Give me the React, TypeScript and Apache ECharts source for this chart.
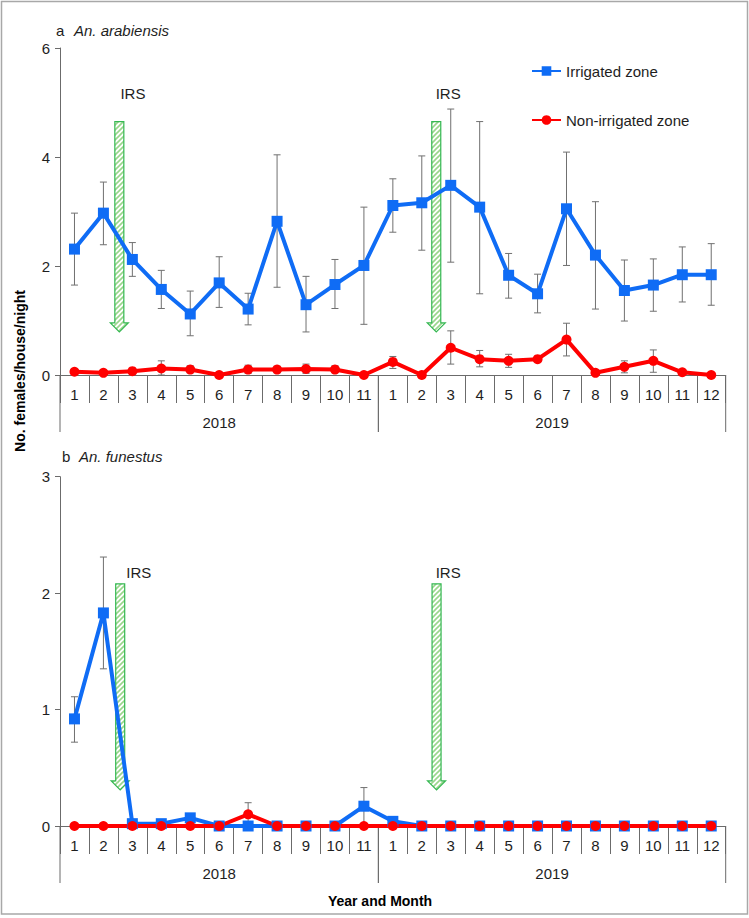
import React, { useEffect, useRef } from 'react';
import * as echarts from 'echarts';

// ---------- data ----------
const months = ['1', '2', '3', '4', '5', '6', '7', '8', '9', '10', '11', '1', '2', '3', '4', '5', '6', '7', '8', '9', '10', '11', '12'];
const years = ['2018', '2019'];
const yearStarts = [0, 11];
const yearCounts = [11, 12];

// Panel a: An. arabiensis
const arabIrr = [2.31, 2.97, 2.12, 1.57, 1.12, 1.69, 1.21, 2.82, 1.29, 1.66, 2.01, 3.11, 3.16, 3.48, 3.08, 1.83, 1.49, 3.05, 2.2, 1.55, 1.65, 1.84, 1.84];
const arabIrrLow = [1.65, 2.39, 1.81, 1.22, 0.72, 1.24, 0.92, 1.61, 0.79, 1.22, 0.93, 2.62, 2.29, 2.07, 1.49, 1.41, 1.14, 2.01, 1.21, 0.99, 1.17, 1.34, 1.28];
const arabIrrHigh = [2.97, 3.54, 2.43, 1.92, 1.54, 2.17, 1.5, 4.04, 1.81, 2.12, 3.08, 3.6, 4.02, 4.88, 4.65, 2.23, 1.85, 4.09, 3.18, 2.11, 2.13, 2.35, 2.41];
const arabNon = [0.06, 0.04, 0.07, 0.12, 0.1, 0, 0.1, 0.1, 0.11, 0.1, 0, 0.24, 0, 0.5, 0.29, 0.26, 0.29, 0.65, 0.04, 0.15, 0.26, 0.05, 0];
const arabNonLow = [0.02, 0.01, 0.03, 0.0, 0.04, 0, 0.03, 0.04, 0.03, 0.04, 0, 0.12, 0, 0.2, 0.15, 0.14, 0.29, 0.35, 0.04, 0.04, 0.05, 0.03, 0];
const arabNonHigh = [0.1, 0.07, 0.11, 0.26, 0.17, 0, 0.18, 0.16, 0.2, 0.17, 0, 0.34, 0, 0.81, 0.45, 0.38, 0.29, 0.95, 0.04, 0.26, 0.46, 0.07, 0];

// Panel b: An. funestus
const funIrr = [0.92, 1.83, 0.02, 0.02, 0.07, 0, 0, 0, 0, 0, 0.17, 0.04, 0, 0, 0, 0, 0, 0, 0, 0, 0, 0, 0];
const funIrrLow = [0.72, 1.35, 0.02, 0.02, 0.07, 0, 0, 0, 0, 0, 0.0, 0.04, 0, 0, 0, 0, 0, 0, 0, 0, 0, 0, 0];
const funIrrHigh = [1.11, 2.31, 0.02, 0.02, 0.07, 0, 0, 0, 0, 0, 0.33, 0.04, 0, 0, 0, 0, 0, 0, 0, 0, 0, 0, 0];
const funNon = [0, 0, 0, 0, 0, 0, 0.1, 0, 0, 0, 0, 0, 0, 0, 0, 0, 0, 0, 0, 0, 0, 0, 0];
const funNonLow = [0, 0, 0, 0, 0, 0, 0.0, 0, 0, 0, 0, 0, 0, 0, 0, 0, 0, 0, 0, 0, 0, 0, 0];
const funNonHigh = [0, 0, 0, 0, 0, 0, 0.2, 0, 0, 0, 0, 0, 0, 0, 0, 0, 0, 0, 0, 0, 0, 0, 0];

// IRS arrows: [category position, top value, tip value, label position, label value]
const irsA = [
  [1.55, 4.65, 0.79, 2.02, 5.17],
  [12.5, 4.65, 0.79, 12.91, 5.17],
];
const irsB = [
  [1.58, 2.08, 0.31, 2.22, 2.18],
  [12.51, 2.08, 0.31, 12.91, 2.18],
];

const FONT = "'Liberation Sans', Arial, sans-serif";
const BLUE = '#0f6cf5';
const RED = '#ff0000';
const ERR = '#707070';
const AXIS = '#6b6b6b';
const TXT = '#1e1e1e';

function makeHatch(): HTMLCanvasElement {
  const c = document.createElement('canvas');
  c.width = 5;
  c.height = 5;
  const ctx = c.getContext('2d')!;
  ctx.fillStyle = '#ffffff';
  ctx.fillRect(0, 0, 5, 5);
  ctx.strokeStyle = '#9ad68c';
  ctx.lineWidth = 1.6;
  ctx.beginPath();
  ctx.moveTo(-1, 6);
  ctx.lineTo(6, -1);
  ctx.moveTo(-1, 1);
  ctx.lineTo(1, -1);
  ctx.moveTo(4, 6);
  ctx.lineTo(6, 4);
  ctx.stroke();
  return c;
}

export default function App() {
  const ref = useRef<HTMLDivElement>(null);

  useEffect(() => {
    if (!ref.current) return;
    const chart = echarts.init(ref.current, undefined, { renderer: 'svg' });
    const hatch = makeHatch();

    const errData = (lo: number[], hi: number[]) => lo.map((l, i) => [i, l, hi[i]]);

    const errSeries = (gi: number, lo: number[], hi: number[], name: string) => ({
      type: 'custom',
      name,
      xAxisIndex: gi,
      yAxisIndex: gi,
      z: 1,
      silent: true,
      data: errData(lo, hi),
      renderItem: (params: any, api: any) => {
        const x = api.value(0);
        const l = api.value(1);
        const h = api.value(2);
        if (!(h - l > 0.005)) return { type: 'group', children: [] };
        const pL = api.coord([x, l]);
        const pH = api.coord([x, h]);
        const cap = 3.5;
        const st = { stroke: ERR, lineWidth: 1 };
        return {
          type: 'group',
          children: [
            { type: 'line', shape: { x1: pL[0], y1: pL[1], x2: pH[0], y2: pH[1] }, style: st },
            { type: 'line', shape: { x1: pH[0] - cap, y1: pH[1], x2: pH[0] + cap, y2: pH[1] }, style: st },
            { type: 'line', shape: { x1: pL[0] - cap, y1: pL[1], x2: pL[0] + cap, y2: pL[1] }, style: st },
          ],
        };
      },
    });

    const lineSeries = (gi: number, name: string, data: number[], color: string, symbol: string, size: number) => ({
      type: 'line',
      name,
      xAxisIndex: gi,
      yAxisIndex: gi,
      data,
      z: 3,
      symbol,
      symbolSize: size,
      lineStyle: { color, width: 4 },
      itemStyle: { color },
    });

    const irsSeries = (gi: number, data: number[][]) => ({
      type: 'custom',
      xAxisIndex: gi,
      yAxisIndex: gi,
      z: 2,
      silent: true,
      data,
      renderItem: (params: any, api: any) => {
        const pos = api.value(0);
        const top = api.value(1);
        const tip = api.value(2);
        const lpos = api.value(3);
        const lval = api.value(4);
        const c0 = api.coord([0, 0]);
        const bw = api.size([1, 0])[0];
        const cx = c0[0] + pos * bw;
        const yT = api.coord([0, top])[1];
        const yP = api.coord([0, tip])[1];
        const hw = 4.5;
        const hh = 9;
        const headW = 9;
        const lx = c0[0] + lpos * bw;
        const ly = api.coord([0, lval])[1];
        return {
          type: 'group',
          children: [
            {
              type: 'polygon',
              shape: {
                points: [
                  [cx - hw, yT],
                  [cx + hw, yT],
                  [cx + hw, yP - hh],
                  [cx + headW, yP - hh],
                  [cx, yP],
                  [cx - headW, yP - hh],
                  [cx - hw, yP - hh],
                ],
              },
              style: {
                fill: { image: hatch, repeat: 'repeat' },
                stroke: '#35b852',
                lineWidth: 1.2,
              },
            },
            {
              type: 'text',
              x: lx,
              y: ly,
              style: {
                text: 'IRS',
                fontSize: 15,
                fontFamily: FONT,
                fill: TXT,
                align: 'center',
                verticalAlign: 'middle',
              },
            },
          ],
        };
      },
    });

    const yearSeries = (gi: number) => ({
      type: 'custom',
      xAxisIndex: gi,
      yAxisIndex: gi,
      z: 2,
      silent: true,
      clip: false,
      data: yearStarts.map((s, i) => [s, yearCounts[i]]),
      renderItem: (params: any, api: any) => {
        const start = api.value(0);
        const count = api.value(1);
        const bw = api.size([1, 0])[0];
        const p = api.coord([start, 0]);
        const xL = p[0] - bw / 2;
        const xR = xL + count * bw;
        const y0 = p[1];
        const st = { stroke: AXIS, lineWidth: 1 };
        return {
          type: 'group',
          children: [
            { type: 'line', shape: { x1: xL, y1: y0, x2: xL, y2: y0 + 57 }, style: st },
            { type: 'line', shape: { x1: xR, y1: y0, x2: xR, y2: y0 + 57 }, style: st },
            {
              type: 'text',
              x: (xL + xR) / 2,
              y: y0 + 47,
              style: {
                text: years[params.dataIndex],
                fontSize: 15,
                fontFamily: FONT,
                fill: TXT,
                align: 'center',
                verticalAlign: 'middle',
              },
            },
          ],
        };
      },
    });

    const xAxisCfg = (gi: number) => ({
      type: 'category',
      gridIndex: gi,
      data: months,
      boundaryGap: true,
      axisLine: { show: true, lineStyle: { color: AXIS, width: 1 } },
      axisTick: { show: true, interval: 0, length: 28, lineStyle: { color: AXIS } },
      axisLabel: { interval: 0, margin: 12, fontSize: 15, fontFamily: FONT, color: TXT },
      splitLine: { show: false },
    });

    const yAxisCfg = (gi: number, max: number, interval: number) => ({
      type: 'value',
      gridIndex: gi,
      min: 0,
      max,
      interval,
      axisLine: { show: true, lineStyle: { color: AXIS, width: 1 } },
      axisTick: { show: true, length: 5, lineStyle: { color: AXIS } },
      axisLabel: { margin: 10, fontSize: 15, fontFamily: FONT, color: TXT },
      splitLine: { show: false },
    });

    chart.setOption({
      animation: false,
      backgroundColor: '#ffffff',
      grid: [
        { left: 60, top: 48, width: 665.7, height: 327 },
        { left: 60, top: 476.7, width: 665.7, height: 349.3 },
      ],
      xAxis: [xAxisCfg(0), xAxisCfg(1)],
      yAxis: [yAxisCfg(0, 6, 2), yAxisCfg(1, 3, 1)],
      legend: {
        data: ['Irrigated zone', 'Non-irrigated zone'],
        orient: 'vertical',
        left: 526,
        top: 57,
        itemWidth: 29,
        itemHeight: 12,
        itemGap: 31,
        textStyle: { fontSize: 15, fontFamily: FONT, color: TXT, lineHeight: 18 },
        selectedMode: false,
      },
      graphic: [
        {
          type: 'rect',
          shape: { x: 1.5, y: 1.5, width: 746, height: 912.5 },
          style: { fill: 'none', stroke: '#a8a8a8', lineWidth: 1.5 },
          silent: true,
        },
        { type: 'text', x: 56, y: 30, style: { text: 'a', fontSize: 15, fontFamily: FONT, fill: TXT, verticalAlign: 'middle' } },
        { type: 'text', x: 74, y: 30, style: { text: 'An. arabiensis', fontSize: 15, fontStyle: 'italic', fontFamily: FONT, fill: TXT, verticalAlign: 'middle' } },
        { type: 'text', x: 62, y: 456, style: { text: 'b', fontSize: 15, fontFamily: FONT, fill: TXT, verticalAlign: 'middle' } },
        { type: 'text', x: 79, y: 456, style: { text: 'An. funestus', fontSize: 15, fontStyle: 'italic', fontFamily: FONT, fill: TXT, verticalAlign: 'middle' } },
        {
          type: 'text',
          x: 20,
          y: 371,
          rotation: Math.PI / 2,
          style: { text: 'No. females/house/night', fontSize: 14, fontWeight: 'bold', fontFamily: FONT, fill: '#000', align: 'center', verticalAlign: 'middle' },
        },
        {
          type: 'text',
          x: 380,
          y: 901,
          style: { text: 'Year and Month', fontSize: 14, fontWeight: 'bold', fontFamily: FONT, fill: '#000', align: 'center', verticalAlign: 'middle' },
        },
      ],
      series: [
        yearSeries(0),
        yearSeries(1),
        errSeries(0, arabIrrLow, arabIrrHigh, 'errA1'),
        errSeries(0, arabNonLow, arabNonHigh, 'errA2'),
        errSeries(1, funIrrLow, funIrrHigh, 'errB1'),
        errSeries(1, funNonLow, funNonHigh, 'errB2'),
        irsSeries(0, irsA),
        irsSeries(1, irsB),
        lineSeries(0, 'Irrigated zone', arabIrr, BLUE, 'rect', 11),
        lineSeries(0, 'Non-irrigated zone', arabNon, RED, 'circle', 10),
        lineSeries(1, 'Irrigated zone', funIrr, BLUE, 'rect', 11),
        lineSeries(1, 'Non-irrigated zone', funNon, RED, 'circle', 10),
      ],
    });

    return () => chart.dispose();
  }, []);

  return (
    <div
      ref={ref}
      style={{ position: 'absolute', left: 0, top: 0, width: 749, height: 918, background: '#fff' }}
    />
  );
}
